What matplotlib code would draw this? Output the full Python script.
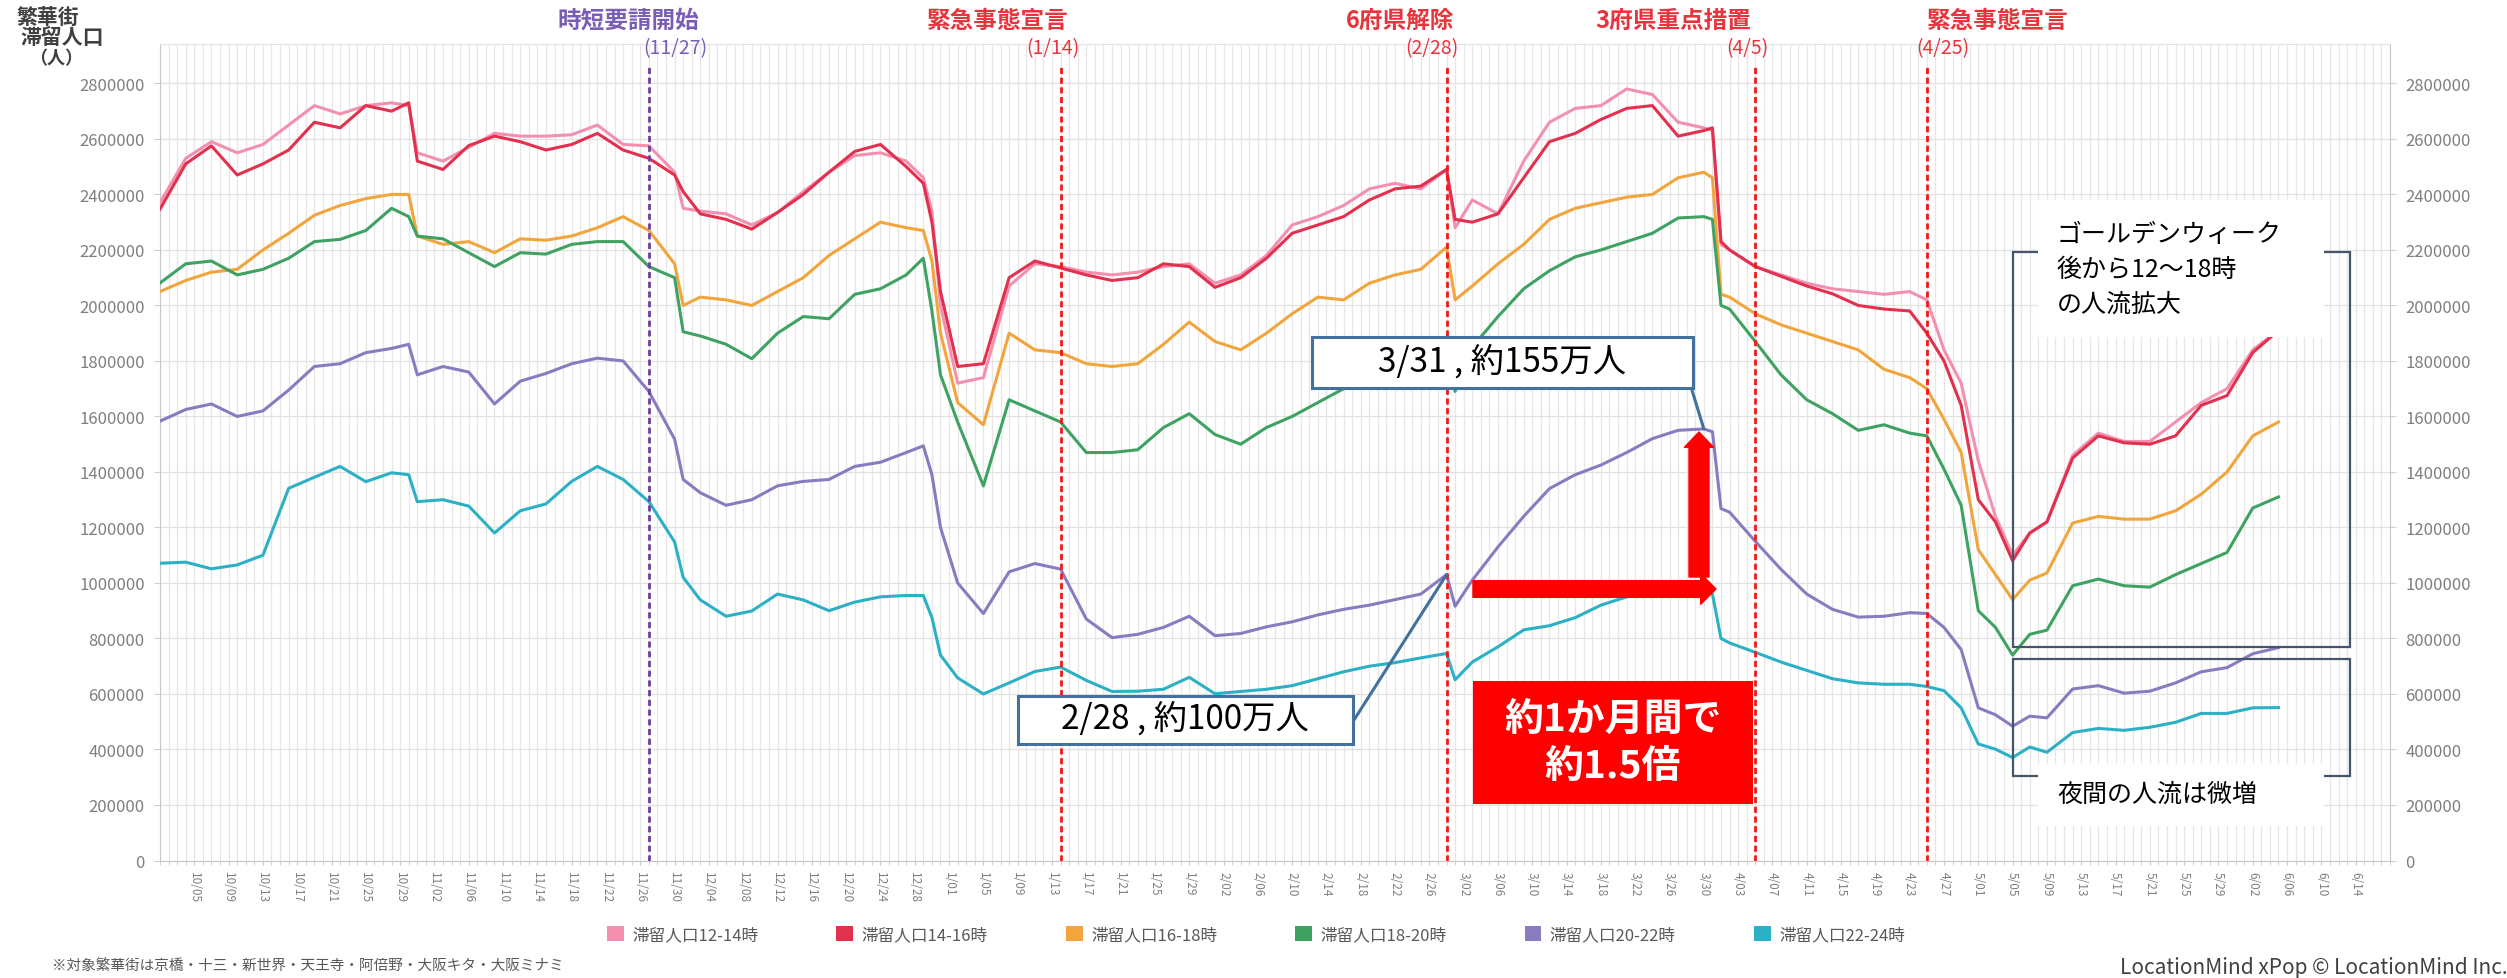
import numpy as np
import pandas as pd
import matplotlib.pyplot as plt
import matplotlib.dates as mdates
from matplotlib.patches import Rectangle, Patch, FancyArrowPatch

plt.rcParams['font.family'] = ['Noto Sans CJK JP', 'DejaVu Sans']

# sample dates (month/day, Oct-Dec = 2020, rest = 2021)
dates = ['10/01', '10/04', '10/07', '10/10', '10/13', '10/16', '10/19', '10/22', '10/25', '10/28', '10/30', '10/31',
         '11/03', '11/06', '11/09', '11/12', '11/15', '11/18', '11/21', '11/24', '11/27', '11/30',
         '12/01', '12/03', '12/06', '12/09', '12/12', '12/15', '12/18', '12/21', '12/24', '12/27', '12/29', '12/30', '12/31',
         '1/02', '1/05', '1/08', '1/11', '1/14', '1/17', '1/20', '1/23', '1/26', '1/29',
         '2/01', '2/04', '2/07', '2/10', '2/13', '2/16', '2/19', '2/22', '2/25', '2/28',
         '3/01', '3/03', '3/06', '3/09', '3/12', '3/15', '3/18', '3/21', '3/24', '3/27', '3/30', '3/31',
         '4/01', '4/02', '4/05', '4/08', '4/11', '4/14', '4/17', '4/20', '4/23', '4/25', '4/27', '4/29',
         '5/01', '5/03', '5/05', '5/07', '5/09', '5/12', '5/15', '5/18', '5/21', '5/24', '5/27', '5/30',
         '6/02', '6/05']

# staying population, thousands of people
pop_12_14 = [2370, 2530, 2590, 2550, 2580, 2650, 2720, 2690, 2720, 2730, 2720, 2550,
             2520, 2570, 2620, 2610, 2610, 2615, 2650, 2580, 2575, 2480,
             2350, 2340, 2330, 2290, 2335, 2410, 2480, 2540, 2550, 2520, 2460, 2340, 2000,
             1720, 1740, 2070, 2150, 2140, 2120, 2110, 2120, 2140, 2150,
             2080, 2110, 2180, 2290, 2320, 2360, 2420, 2440, 2420, 2490,
             2280, 2380, 2330, 2520, 2660, 2710, 2720, 2780, 2760, 2660, 2640, 2630,
             2220, 2200, 2140, 2110, 2080, 2060, 2050, 2040, 2050, 2020, 1840, 1720,
             1440, 1240, 1100, 1180, 1220, 1460, 1540, 1510, 1510, 1580, 1650, 1700,
             1840, 1910]
pop_14_16 = [2347, 2510, 2575, 2470, 2510, 2560, 2660, 2640, 2720, 2700, 2730, 2520,
             2490, 2576, 2610, 2590, 2560, 2580, 2620, 2560, 2530, 2470,
             2410, 2330, 2310, 2275, 2335, 2400, 2480, 2555, 2580, 2500, 2440, 2300, 2050,
             1780, 1790, 2100, 2160, 2135, 2110, 2090, 2100, 2150, 2140,
             2065, 2100, 2170, 2260, 2290, 2320, 2380, 2420, 2430, 2490,
             2310, 2300, 2330, 2460, 2590, 2620, 2670, 2710, 2720, 2610, 2630, 2640,
             2230, 2200, 2140, 2105, 2070, 2042, 2000, 1987, 1980, 1900, 1800, 1640,
             1300, 1220, 1080, 1180, 1220, 1450, 1530, 1505, 1500, 1530, 1640, 1675,
             1830, 1910]
pop_16_18 = [2050, 2090, 2120, 2130, 2200, 2260, 2325, 2360, 2385, 2400, 2400, 2250,
             2220, 2230, 2190, 2240, 2235, 2250, 2280, 2320, 2270, 2150,
             2000, 2030, 2020, 2000, 2050, 2100, 2180, 2240, 2300, 2280, 2270, 2160, 1900,
             1650, 1570, 1900, 1840, 1830, 1790, 1780, 1790, 1860, 1940,
             1870, 1840, 1900, 1970, 2030, 2020, 2080, 2110, 2130, 2210,
             2020, 2070, 2150, 2220, 2310, 2350, 2370, 2390, 2400, 2460, 2480, 2460,
             2040, 2030, 1970, 1930, 1900, 1870, 1840, 1770, 1740, 1700, 1590, 1470,
             1120, 1030, 940, 1010, 1036, 1216, 1240, 1230, 1230, 1260, 1320, 1400,
             1530, 1580]
pop_18_20 = [2081, 2150, 2160, 2110, 2130, 2170, 2230, 2238, 2270, 2350, 2320, 2250,
             2240, 2190, 2140, 2190, 2185, 2220, 2230, 2230, 2140, 2100,
             1905, 1890, 1860, 1808, 1900, 1960, 1952, 2040, 2060, 2110, 2170, 1980, 1750,
             1580, 1350, 1660, 1620, 1580, 1470, 1470, 1480, 1560, 1610,
             1535, 1500, 1560, 1600, 1650, 1700, 1727, 1760, 1790, 1800,
             1690, 1850, 1960, 2060, 2125, 2175, 2200, 2230, 2260, 2315, 2320, 2310,
             2000, 1987, 1870, 1750, 1660, 1610, 1550, 1570, 1540, 1530, 1410, 1280,
             900, 840, 740, 815, 830, 990, 1014, 990, 985, 1030, 1070, 1110,
             1270, 1310]
pop_20_22 = [1583, 1625, 1645, 1600, 1620, 1695, 1780, 1790, 1830, 1845, 1860, 1750,
             1780, 1760, 1645, 1727, 1755, 1790, 1810, 1800, 1690, 1518,
             1373, 1325, 1280, 1300, 1350, 1366, 1373, 1420, 1435, 1470, 1494, 1390, 1200,
             1000, 890, 1040, 1070, 1050, 870, 803, 815, 840, 880,
             810, 818, 842, 860, 885, 905, 920, 940, 960, 1030,
             916, 1010, 1130, 1240, 1340, 1390, 1425, 1470, 1520, 1550, 1555, 1545,
             1268, 1255, 1150, 1049, 960, 905, 877, 880, 893, 890, 840, 760,
             550, 525, 484, 520, 514, 618, 630, 603, 610, 640, 680, 695,
             745, 767]
pop_22_24 = [1071, 1075, 1051, 1065, 1100, 1341, 1381, 1420, 1365, 1397, 1390, 1293,
             1300, 1277, 1180, 1260, 1285, 1366, 1420, 1373, 1293, 1148,
             1020, 939, 880, 899, 960, 939, 900, 931, 950, 955, 955, 875, 740,
             658, 600, 640, 681, 697, 649, 609, 610, 617, 660,
             601, 609, 617, 630, 655, 680, 700, 713, 730, 746,
             651, 715, 770, 831, 846, 875, 920, 950, 963, 990, 975, 960,
             800, 784, 750, 715, 685, 655, 640, 635, 635, 627, 612, 550,
             420, 401, 371, 409, 390, 461, 476, 469, 480, 498, 530, 530,
             550, 551]

labels = ['滞留人口12-14時', '滞留人口14-16時', '滞留人口16-18時',
          '滞留人口18-20時', '滞留人口20-22時', '滞留人口22-24時']
colors = ['#F390B0', '#E2304F', '#F2A53C', '#3FA262', '#8A7BC0', '#2BB0C6']
values = [pop_12_14, pop_14_16, pop_16_18, pop_18_20, pop_20_22, pop_22_24]

# events
event_dates = ['11/27', '1/14', '2/28', '4/05', '4/25']
event_names = ['時短要請開始', '緊急事態宣言', '6府県解除', '3府県重点措置', '緊急事態宣言']
event_tags = ['(11/27)', '(1/14)', '(2/28)', '(4/5)', '(4/25)']
event_colors = ['#6B3FA0', '#F01818', '#F01818', '#F01818', '#F01818']
event_text_colors = ['#7A5DB5', '#E8343C', '#E8343C', '#E8343C', '#E8343C']


def to_ts(s):
    m, d = map(int, s.split('/'))
    return pd.Timestamp(2020 if m >= 10 else 2021, m, d)


x = [to_ts(s) for s in dates]
start = pd.Timestamp(2020, 10, 1)

W, H = 2507, 979
fig = plt.figure(figsize=(W / 100, H / 100), dpi=100)
ax = fig.add_axes([160 / W, 1 - 862 / H, (2390 - 160) / W, (862 - 45) / H])

for lab, col, vals in zip(labels, colors, values):
    ax.plot(x, np.array(vals) * 1000, color=col, lw=2.2, zorder=3)

ax.set_xlim(start, start + pd.Timedelta(days=260))
ax.set_ylim(-1800, 2942000)

# y axis on both sides
yt = list(range(0, 2800001, 200000))
ax.set_yticks(yt)
ax.set_yticklabels([str(v) for v in yt])
ax.tick_params(axis='y', labelsize=12, labelcolor='#7f7f7f', length=4, color='#d0d0d0',
               pad=7, left=True, right=True, labelleft=True, labelright=True)

# x axis: every 4 days
tick_dates = pd.date_range('2020-10-05', '2021-06-14', freq='4D')
ax.set_xticks(tick_dates)
ax.set_xticklabels([f'{d.month}/{d.day:02d}' for d in tick_dates], rotation=270)
ax.xaxis.set_minor_locator(mdates.DayLocator())
ax.tick_params(axis='x', which='both', labelsize=8.5, labelcolor='#7f7f7f', length=3,
               color='#c8c8c8', pad=4)

ax.grid(axis='x', which='both', color='#e6e6e6', lw=0.9, zorder=0)
ax.grid(axis='y', which='major', color='#e2e2e2', lw=0.9, zorder=0)
for side in ['left', 'bottom', 'right']:
    ax.spines[side].set_color('#c8c8c8')
ax.spines['top'].set_color('#e2e2e2')

# event lines
for d, c in zip(event_dates, event_colors):
    ax.vlines(to_ts(d), 0, 2863000, colors=c, linestyles=(0, (2.2, 1.3)), lw=2.0, zorder=4)

# event labels above the plot (figure pixel layout)
name_x = [628, 998, 1400, 1673, 1998]
tag_x = [675, 1053, 1432, 1747, 1943]
for n, t, c, nx, tx in zip(event_names, event_tags, event_text_colors, name_x, tag_x):
    fig.text(nx / W, 1 - 21 / H, n, color=c, fontsize=17, fontweight='bold', ha='center', va='center')
    fig.text(tx / W, 1 - 49 / H, t, color=c, fontsize=14, ha='center', va='center')

# y axis title top-left
fig.text(48 / W, 1 - 17 / H, '繁華街', fontsize=15, fontweight='bold', color='#404040', ha='center', va='center')
fig.text(62 / W, 1 - 38 / H, '滞留人口', fontsize=15, fontweight='bold', color='#404040', ha='center', va='center')
fig.text(56 / W, 1 - 59 / H, '（人）', fontsize=13, fontweight='bold', color='#404040', ha='center', va='center')

# legend
handles = [Patch(facecolor=c, edgecolor='none') for c in colors]
fig.legend(handles, labels, loc='center', bbox_to_anchor=(1256 / W, 1 - 936 / H), ncol=6,
           frameon=False, fontsize=12, handlelength=1.0, handleheight=1.0,
           handletextpad=0.5, columnspacing=4.7, labelcolor='#595959')

fig.text(52 / W, 1 - 967 / H, '※対象繁華街は京橋・十三・新世界・天王寺・阿倍野・大阪キタ・大阪ミナミ',
         fontsize=10.5, color='#595959', ha='left', va='center')
fig.text(2120 / W, 1 - 968 / H, 'LocationMind xPop © LocationMind Inc.',
         fontsize=15, color='#404040', ha='left', va='center')


def frect(x0, y0, x1, y1, **kw):
    r = Rectangle((x0 / W, 1 - y1 / H), (x1 - x0) / W, (y1 - y0) / H,
                  transform=fig.transFigure, **kw)
    fig.add_artist(r)


def ftext(xp, yp, s, **kw):
    fig.text(xp / W, 1 - yp / H, s, **kw)


box_blue = '#41719C'

# connectors to the 20-22 line
i228 = dates.index('2/28')
i330 = dates.index('3/30')
ax.annotate('', xy=(x[i228], pop_20_22[i228] * 1000), xycoords='data',
            xytext=(1354, H - 721), textcoords='figure pixels',
            arrowprops=dict(arrowstyle='-', color=box_blue, lw=2.2, shrinkA=0, shrinkB=0),
            annotation_clip=False, zorder=6)
ax.annotate('', xy=(x[i330], pop_20_22[i330] * 1000), xycoords='data',
            xytext=(1691, H - 388), textcoords='figure pixels',
            arrowprops=dict(arrowstyle='-', color=box_blue, lw=2.2, shrinkA=0, shrinkB=0),
            annotation_clip=False, zorder=6)

# callout boxes
frect(1018, 697, 1353, 745, facecolor='white', edgecolor=box_blue, lw=2.2, zorder=6)
ftext(1185, 719, '2/28 , 約100万人', fontsize=24, color='black', ha='center', va='center', zorder=7)
frect(1312, 338, 1693, 389, facecolor='white', edgecolor=box_blue, lw=2.2, zorder=6)
ftext(1502, 362, '3/31 , 約155万人', fontsize=24, color='black', ha='center', va='center', zorder=7)

# red arrows
fig.add_artist(FancyArrowPatch((1473 / W, 1 - 590 / H), (1716 / W, 1 - 590 / H),
                               transform=fig.transFigure, color='#FF0000',
                               arrowstyle='simple,head_length=0.55,head_width=1.1,tail_width=0.6',
                               mutation_scale=20, shrinkA=0, shrinkB=0, zorder=6))
fig.add_artist(FancyArrowPatch((1699 / W, 1 - 578 / H), (1699 / W, 1 - 433 / H),
                               transform=fig.transFigure, color='#FF0000',
                               arrowstyle='simple,head_length=0.55,head_width=1.05,tail_width=0.72',
                               mutation_scale=20, shrinkA=0, shrinkB=0, zorder=6))

frect(1473, 682, 1753, 805, facecolor='#FF0000', edgecolor='none', zorder=6)
ftext(1613, 743, '約1か月間で\n約1.5倍', fontsize=28, fontweight='bold', color='white',
      ha='center', va='center', linespacing=1.25, zorder=7)

# brackets on the right
bracket = '#44546A'
frect(2013, 253, 2350, 648, fill=False, edgecolor=bracket, lw=1.6, zorder=6)
frect(2013, 660, 2350, 777, fill=False, edgecolor=bracket, lw=1.6, zorder=6)
frect(2038, 201, 2324, 338, facecolor='white', edgecolor='none', zorder=7)
frect(2038, 765, 2324, 827, facecolor='white', edgecolor='none', zorder=7)
ftext(2057, 270, 'ゴールデンウィーク\n後から12～18時\nの人流拡大', fontsize=18, color='black',
      ha='left', va='center', linespacing=1.45, zorder=8)
ftext(2057, 795, '夜間の人流は微増', fontsize=18, color='black', ha='left', va='center', zorder=8)

fig.savefig('out.png', dpi=100)
